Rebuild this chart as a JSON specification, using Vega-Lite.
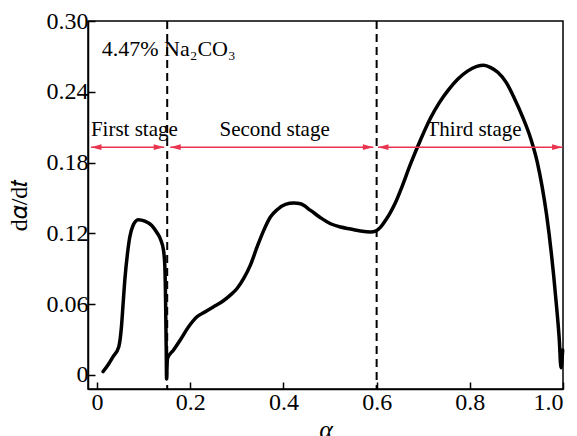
{
  "$schema": "https://vega.github.io/schema/vega-lite/v6.json",
  "width": 475,
  "height": 368,
  "autosize": {"type": "none"},
  "padding": {"left": 88, "top": 21, "right": 14, "bottom": 47},
  "background": "white",
  "config": {
    "font": "Liberation Serif",
    "view": {"stroke": "black", "strokeWidth": 1.5},
    "axis": {
      "labelColor": "black",
      "titleColor": "black",
      "titleFontWeight": "normal",
      "domainColor": "black",
      "domainWidth": 1.5,
      "tickColor": "black",
      "tickWidth": 1.5,
      "tickSize": -7,
      "grid": false
    },
    "text": {"font": "Liberation Serif", "color": "black"}
  },
  "datasets": {
    "curve": [
      {"x": 0.0129, "y": 0.0028}, {"x": 0.0237, "y": 0.0085}, {"x": 0.0344, "y": 0.0155},
      {"x": 0.0466, "y": 0.0239}, {"x": 0.0523, "y": 0.0408}, {"x": 0.0559, "y": 0.0606},
      {"x": 0.0595, "y": 0.0803}, {"x": 0.0652, "y": 0.1028}, {"x": 0.0702, "y": 0.1169},
      {"x": 0.0774, "y": 0.1268}, {"x": 0.0882, "y": 0.1316}, {"x": 0.1025, "y": 0.1304},
      {"x": 0.1168, "y": 0.1268}, {"x": 0.1276, "y": 0.1211}, {"x": 0.1369, "y": 0.1141},
      {"x": 0.1426, "y": 0.1056}, {"x": 0.1455, "y": 0.0915}, {"x": 0.1470, "y": 0.0634},
      {"x": 0.1484, "y": 0.0211}, {"x": 0.1491, "y": -0.0035}, {"x": 0.1505, "y": 0.0110},
      {"x": 0.1513, "y": 0.0141}, {"x": 0.1641, "y": 0.0211}, {"x": 0.1785, "y": 0.0296},
      {"x": 0.1964, "y": 0.0408}, {"x": 0.2144, "y": 0.0493}, {"x": 0.2323, "y": 0.0535},
      {"x": 0.2502, "y": 0.0577}, {"x": 0.2681, "y": 0.0620}, {"x": 0.2860, "y": 0.0676},
      {"x": 0.3004, "y": 0.0732}, {"x": 0.3147, "y": 0.0817}, {"x": 0.3290, "y": 0.0930},
      {"x": 0.3434, "y": 0.1084}, {"x": 0.3577, "y": 0.1225}, {"x": 0.3720, "y": 0.1338},
      {"x": 0.3864, "y": 0.1400}, {"x": 0.4043, "y": 0.1445}, {"x": 0.4222, "y": 0.1456},
      {"x": 0.4366, "y": 0.1450}, {"x": 0.4581, "y": 0.1394}, {"x": 0.4796, "y": 0.1332},
      {"x": 0.5011, "y": 0.1281}, {"x": 0.5226, "y": 0.1253}, {"x": 0.5441, "y": 0.1236},
      {"x": 0.5656, "y": 0.1219}, {"x": 0.5871, "y": 0.1211}, {"x": 0.5978, "y": 0.1219},
      {"x": 0.6090, "y": 0.1255}, {"x": 0.6200, "y": 0.1315}, {"x": 0.6300, "y": 0.1380},
      {"x": 0.6410, "y": 0.1465}, {"x": 0.6520, "y": 0.1570},
      {"x": 0.6730, "y": 0.1790}, {"x": 0.6950, "y": 0.2000},
      {"x": 0.7160, "y": 0.2180}, {"x": 0.7350, "y": 0.2310}, {"x": 0.7550, "y": 0.2420},
      {"x": 0.7750, "y": 0.2510}, {"x": 0.7950, "y": 0.2575}, {"x": 0.8150, "y": 0.2615},
      {"x": 0.8300, "y": 0.2625}, {"x": 0.8450, "y": 0.2605}, {"x": 0.8600, "y": 0.2565},
      {"x": 0.8780, "y": 0.2480}, {"x": 0.8950, "y": 0.2350}, {"x": 0.9130, "y": 0.2190},
      {"x": 0.9310, "y": 0.2000}, {"x": 0.9450, "y": 0.1800}, {"x": 0.9550, "y": 0.1600},
      {"x": 0.9650, "y": 0.1350}, {"x": 0.9750, "y": 0.1030}, {"x": 0.9850, "y": 0.0630},
      {"x": 0.9920, "y": 0.0300}, {"x": 0.9957, "y": 0.0060}, {"x": 0.9993, "y": 0.0210}
    ],
    "dividers": [{"x": 0.1505}, {"x": 0.6}],
    "arrows": [
      {"x": -0.013, "x2": 0.144, "y": 0.193},
      {"x": 0.157, "x2": 0.593, "y": 0.193},
      {"x": 0.603, "x2": 0.999, "y": 0.193}
    ],
    "heads": [
      {"x": -0.013, "y": 0.193, "dir": "left"},
      {"x": 0.144, "y": 0.193, "dir": "right"},
      {"x": 0.157, "y": 0.193, "dir": "left"},
      {"x": 0.593, "y": 0.193, "dir": "right"},
      {"x": 0.603, "y": 0.193, "dir": "left"},
      {"x": 0.999, "y": 0.193, "dir": "right"}
    ],
    "stages": [
      {"x": 0.080, "y": 0.208, "label": "First stage"},
      {"x": 0.381, "y": 0.208, "label": "Second stage"},
      {"x": 0.809, "y": 0.208, "label": "Third stage"}
    ],
    "note": [{"x": 0.010, "y": 0.270, "label": "4.47% Na₂CO₃"}]
  },
  "layer": [
    {
      "data": {"name": "dividers"},
      "mark": {"type": "rule", "color": "black", "strokeWidth": 2, "strokeDash": [8, 5]},
      "encoding": {
        "x": {"field": "x", "type": "quantitative"}
      }
    },
    {
      "data": {"name": "curve"},
      "mark": {"type": "line", "color": "black", "strokeWidth": 3.5, "interpolate": "monotone", "strokeCap": "round", "strokeJoin": "round"},
      "encoding": {
        "x": {
          "field": "x", "type": "quantitative",
          "scale": {"domain": [-0.0195, 1.0], "nice": false, "zero": false},
          "axis": {
            "values": [0, 0.2, 0.4, 0.6, 0.8, 1.0],
            "labelExpr": "datum.value == 0 ? '0' : format(datum.value, '.1f')",
            "labelFont": "Liberation Serif",
            "labelFontSize": 24,
            "labelPadding": 8,
            "title": "α",
            "titleFont": "Liberation Serif",
            "titleFontSize": 26,
            "titleFontStyle": "italic",
            "titlePadding": 2
          }
        },
        "y": {
          "field": "y", "type": "quantitative",
          "scale": {"domain": [-0.012, 0.30], "nice": false, "zero": false},
          "axis": {
            "values": [0, 0.06, 0.12, 0.18, 0.24, 0.30],
            "labelExpr": "datum.value == 0 ? '0' : format(datum.value, '.2f')",
            "labelFont": "Liberation Serif",
            "labelFontSize": 24,
            "labelPadding": 7,
            "title": "d𝛼/d𝑡",
            "titleFont": "Liberation Serif",
            "titleFontSize": 24,
            "titlePadding": 15
          }
        }
      }
    },
    {
      "data": {"name": "arrows"},
      "mark": {"type": "rule", "color": "#e8344e", "strokeWidth": 1.5},
      "encoding": {
        "x": {"field": "x", "type": "quantitative"},
        "x2": {"field": "x2"},
        "y": {"field": "y", "type": "quantitative"}
      }
    },
    {
      "data": {"name": "heads"},
      "mark": {"type": "point", "filled": true, "color": "#e8344e", "size": 110, "opacity": 1, "strokeWidth": 0},
      "encoding": {
        "x": {"field": "x", "type": "quantitative"},
        "y": {"field": "y", "type": "quantitative"},
        "shape": {
          "field": "dir", "type": "nominal", "legend": null,
          "scale": {"domain": ["left", "right"], "range": ["M0,0L2,-0.55L2,0.55Z", "M0,0L-2,-0.55L-2,0.55Z"]}
        }
      }
    },
    {
      "data": {"name": "stages"},
      "mark": {"type": "text", "fontSize": 21, "align": "center", "baseline": "middle"},
      "encoding": {
        "x": {"field": "x", "type": "quantitative"},
        "y": {"field": "y", "type": "quantitative"},
        "text": {"field": "label"}
      }
    },
    {
      "data": {"name": "note"},
      "mark": {"type": "text", "fontSize": 22, "align": "left", "baseline": "alphabetic"},
      "encoding": {
        "x": {"field": "x", "type": "quantitative"},
        "y": {"field": "y", "type": "quantitative"},
        "text": {"field": "label"}
      }
    }
  ]
}
